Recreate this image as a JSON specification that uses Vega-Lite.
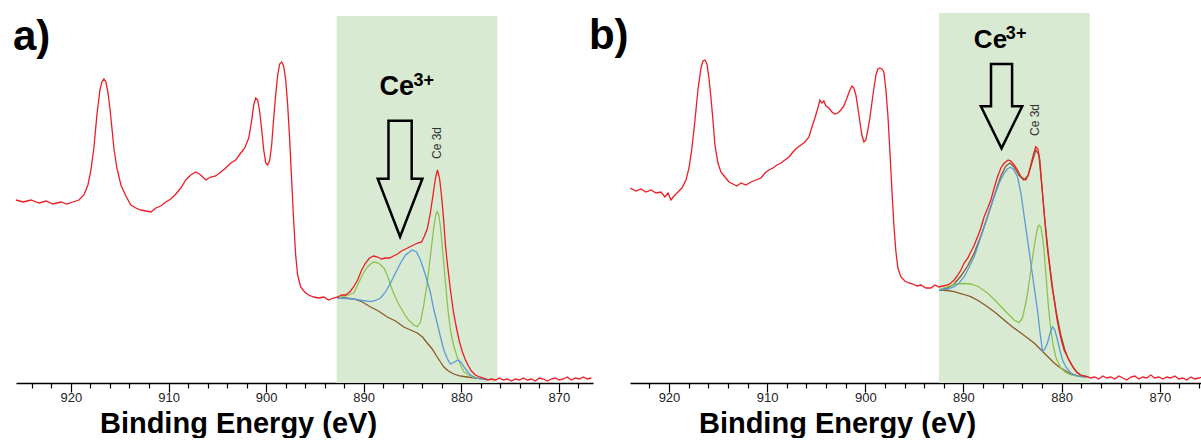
{
"$schema": "https://vega.github.io/schema/vega-lite/v6.json",
"padding": {"left": 12, "top": 13, "right": 0, "bottom": 0},
"background": "white",
"bounds": "flush",
"spacing": 37,
"config": {"view": {"stroke": null}, "axis": {"grid": false}, "font": "Liberation Sans"},
"datasets": {
"a": [
{"eV":892.70,"I":85,"s":"base"},{"eV":891.85,"I":85,"s":"base"},{"eV":891.00,"I":84,"s":"base"},{"eV":890.14,"I":81,"s":"base"},{"eV":889.29,"I":76,"s":"base"},{"eV":888.48,"I":72,"s":"base"},{"eV":887.58,"I":66,"s":"base"},{"eV":886.74,"I":62,"s":"base"},{"eV":885.89,"I":56,"s":"base"},{"eV":885.20,"I":53,"s":"base"},{"eV":884.51,"I":50,"s":"base"},{"eV":883.97,"I":46,"s":"base"},{"eV":883.49,"I":40,"s":"base"},{"eV":882.98,"I":34,"s":"base"},{"eV":882.47,"I":26,"s":"base"},{"eV":882.13,"I":21,"s":"base"},{"eV":881.79,"I":16,"s":"base"},{"eV":881.31,"I":12,"s":"base"},{"eV":880.77,"I":9,"s":"base"},{"eV":880.08,"I":7,"s":"base"},{"eV":879.40,"I":6,"s":"base"},{"eV":878.37,"I":4.7,"s":"base"},{"eV":877.35,"I":4,"s":"base"},
{"eV":892.70,"I":85,"s":"g"},{"eV":891.85,"I":87,"s":"g"},{"eV":891.00,"I":90,"s":"g"},{"eV":890.14,"I":108,"s":"g"},{"eV":889.70,"I":115,"s":"g"},{"eV":889.29,"I":119,"s":"g"},{"eV":888.96,"I":121,"s":"g"},{"eV":888.48,"I":120,"s":"g"},{"eV":887.93,"I":115,"s":"g"},{"eV":887.55,"I":107,"s":"g"},{"eV":887.07,"I":93,"s":"g"},{"eV":886.53,"I":81,"s":"g"},{"eV":885.89,"I":70,"s":"g"},{"eV":885.40,"I":63,"s":"g"},{"eV":884.86,"I":58,"s":"g"},{"eV":884.51,"I":56.3,"s":"g"},{"eV":884.18,"I":61,"s":"g"},{"eV":883.84,"I":78,"s":"g"},{"eV":883.49,"I":100,"s":"g"},{"eV":883.15,"I":128,"s":"g"},{"eV":882.81,"I":156,"s":"g"},{"eV":882.59,"I":169,"s":"g"},{"eV":882.47,"I":171.3,"s":"g"},{"eV":882.33,"I":169,"s":"g"},{"eV":882.13,"I":156,"s":"g"},{"eV":881.87,"I":128,"s":"g"},{"eV":881.62,"I":100,"s":"g"},{"eV":881.36,"I":73,"s":"g"},{"eV":881.11,"I":53,"s":"g"},{"eV":880.80,"I":38,"s":"g"},{"eV":880.42,"I":26,"s":"g"},{"eV":880.08,"I":18,"s":"g"},{"eV":879.74,"I":11.3,"s":"g"},{"eV":879.26,"I":8,"s":"g"},{"eV":878.72,"I":5.7,"s":"g"},{"eV":878.04,"I":4.5,"s":"g"},{"eV":877.35,"I":4,"s":"g"},
{"eV":892.70,"I":85,"s":"b"},{"eV":891.85,"I":84.5,"s":"b"},{"eV":891.00,"I":84,"s":"b"},{"eV":890.14,"I":82.5,"s":"b"},{"eV":889.29,"I":81.3,"s":"b"},{"eV":888.78,"I":82.5,"s":"b"},{"eV":888.27,"I":85,"s":"b"},{"eV":887.76,"I":91,"s":"b"},{"eV":887.25,"I":100,"s":"b"},{"eV":886.74,"I":110,"s":"b"},{"eV":886.22,"I":120,"s":"b"},{"eV":885.71,"I":128,"s":"b"},{"eV":885.03,"I":133,"s":"b"},{"eV":884.59,"I":131,"s":"b"},{"eV":884.18,"I":123,"s":"b"},{"eV":883.67,"I":108,"s":"b"},{"eV":883.15,"I":90,"s":"b"},{"eV":882.85,"I":75,"s":"b"},{"eV":882.47,"I":60,"s":"b"},{"eV":882.13,"I":46,"s":"b"},{"eV":881.79,"I":33,"s":"b"},{"eV":881.41,"I":24,"s":"b"},{"eV":881.11,"I":19,"s":"b"},{"eV":880.77,"I":20.5,"s":"b"},{"eV":880.36,"I":23,"s":"b"},{"eV":880.03,"I":21,"s":"b"},{"eV":879.74,"I":16.3,"s":"b"},{"eV":879.40,"I":12,"s":"b"},{"eV":879.06,"I":8,"s":"b"},{"eV":878.37,"I":4.7,"s":"b"},{"eV":877.35,"I":3.5,"s":"b"},
{"eV":925.63,"I":183,"s":"r"},{"eV":924.91,"I":181,"s":"r"},{"eV":924.09,"I":183,"s":"r"},{"eV":923.28,"I":180,"s":"r"},{"eV":922.56,"I":182,"s":"r"},{"eV":921.84,"I":179,"s":"r"},{"eV":921.02,"I":181,"s":"r"},{"eV":920.41,"I":179,"s":"r"},{"eV":919.80,"I":181,"s":"r"},{"eV":919.18,"I":183,"s":"r"},{"eV":918.67,"I":188,"s":"r"},{"eV":918.26,"I":198,"s":"r"},{"eV":917.95,"I":213,"s":"r"},{"eV":917.65,"I":235,"s":"r"},{"eV":917.34,"I":268,"s":"r"},{"eV":917.03,"I":293,"s":"r"},{"eV":916.83,"I":301,"s":"r"},{"eV":916.62,"I":304,"s":"r"},{"eV":916.42,"I":301,"s":"r"},{"eV":916.21,"I":291,"s":"r"},{"eV":916.01,"I":275,"s":"r"},{"eV":915.80,"I":255,"s":"r"},{"eV":915.60,"I":235,"s":"r"},{"eV":915.29,"I":215,"s":"r"},{"eV":914.88,"I":198,"s":"r"},{"eV":914.37,"I":187,"s":"r"},{"eV":913.86,"I":178,"s":"r"},{"eV":913.35,"I":175,"s":"r"},{"eV":912.84,"I":173,"s":"r"},{"eV":912.32,"I":172,"s":"r"},{"eV":911.81,"I":171,"s":"r"},{"eV":911.30,"I":175,"s":"r"},{"eV":910.79,"I":177,"s":"r"},{"eV":910.28,"I":181,"s":"r"},{"eV":909.76,"I":184,"s":"r"},{"eV":909.25,"I":189,"s":"r"},{"eV":908.74,"I":195,"s":"r"},{"eV":908.23,"I":203,"s":"r"},{"eV":907.72,"I":208,"s":"r"},{"eV":907.21,"I":211,"s":"r"},{"eV":906.69,"I":208,"s":"r"},{"eV":906.18,"I":203,"s":"r"},{"eV":905.67,"I":206,"s":"r"},{"eV":905.16,"I":207,"s":"r"},{"eV":904.65,"I":211,"s":"r"},{"eV":904.14,"I":215,"s":"r"},{"eV":903.62,"I":220,"s":"r"},{"eV":903.11,"I":223,"s":"r"},{"eV":902.60,"I":230,"s":"r"},{"eV":902.19,"I":235,"s":"r"},{"eV":901.78,"I":245,"s":"r"},{"eV":901.47,"I":263,"s":"r"},{"eV":901.27,"I":278,"s":"r"},{"eV":901.06,"I":285,"s":"r"},{"eV":900.86,"I":283,"s":"r"},{"eV":900.65,"I":271,"s":"r"},{"eV":900.45,"I":253,"s":"r"},{"eV":900.24,"I":233,"s":"r"},{"eV":900.04,"I":220,"s":"r"},{"eV":899.84,"I":218,"s":"r"},{"eV":899.63,"I":223,"s":"r"},{"eV":899.43,"I":238,"s":"r"},{"eV":899.22,"I":265,"s":"r"},{"eV":899.02,"I":288,"s":"r"},{"eV":898.81,"I":308,"s":"r"},{"eV":898.61,"I":319,"s":"r"},{"eV":898.40,"I":321,"s":"r"},{"eV":898.20,"I":317,"s":"r"},{"eV":897.99,"I":303,"s":"r"},{"eV":897.79,"I":278,"s":"r"},{"eV":897.58,"I":243,"s":"r"},{"eV":897.38,"I":203,"s":"r"},{"eV":897.18,"I":163,"s":"r"},{"eV":896.97,"I":128,"s":"r"},{"eV":896.77,"I":108,"s":"r"},{"eV":896.46,"I":96,"s":"r"},{"eV":896.05,"I":91,"s":"r"},{"eV":895.64,"I":88,"s":"r"},{"eV":895.13,"I":86,"s":"r"},{"eV":894.62,"I":85,"s":"r"},{"eV":894.10,"I":86,"s":"r"},{"eV":893.59,"I":83,"s":"r"},{"eV":893.08,"I":85,"s":"r"},{"eV":892.67,"I":86,"s":"r"},{"eV":892.26,"I":88,"s":"r"},{"eV":891.85,"I":88,"s":"r"},{"eV":891.44,"I":91,"s":"r"},{"eV":891.03,"I":96,"s":"r"},{"eV":890.62,"I":103,"s":"r"},{"eV":890.21,"I":113,"s":"r"},{"eV":889.81,"I":120,"s":"r"},{"eV":889.40,"I":125,"s":"r"},{"eV":888.99,"I":127,"s":"r"},{"eV":888.58,"I":126,"s":"r"},{"eV":888.17,"I":124,"s":"r"},{"eV":887.76,"I":125,"s":"r"},{"eV":887.35,"I":125,"s":"r"},{"eV":886.94,"I":127,"s":"r"},{"eV":886.53,"I":129,"s":"r"},{"eV":886.12,"I":132,"s":"r"},{"eV":885.71,"I":134,"s":"r"},{"eV":885.30,"I":136,"s":"r"},{"eV":884.89,"I":138,"s":"r"},{"eV":884.48,"I":140,"s":"r"},{"eV":884.07,"I":141,"s":"r"},{"eV":883.77,"I":147,"s":"r"},{"eV":883.46,"I":155,"s":"r"},{"eV":883.15,"I":171,"s":"r"},{"eV":882.85,"I":191,"s":"r"},{"eV":882.64,"I":205,"s":"r"},{"eV":882.44,"I":213,"s":"r"},{"eV":882.23,"I":205,"s":"r"},{"eV":882.03,"I":188,"s":"r"},{"eV":881.82,"I":165,"s":"r"},{"eV":881.62,"I":138,"s":"r"},{"eV":881.41,"I":118,"s":"r"},{"eV":881.11,"I":93,"s":"r"},{"eV":880.80,"I":71,"s":"r"},{"eV":880.49,"I":55,"s":"r"},{"eV":880.18,"I":41,"s":"r"},{"eV":879.88,"I":31,"s":"r"},{"eV":879.57,"I":23,"s":"r"},{"eV":879.26,"I":17,"s":"r"},{"eV":878.96,"I":12,"s":"r"},{"eV":878.55,"I":8,"s":"r"},{"eV":878.14,"I":6,"s":"r"},{"eV":877.73,"I":5,"s":"r"},{"eV":877.32,"I":3,"s":"r"},{"eV":876.91,"I":4,"s":"r"},{"eV":876.50,"I":3,"s":"r"},{"eV":876.09,"I":5,"s":"r"},{"eV":875.68,"I":3,"s":"r"},{"eV":875.27,"I":4,"s":"r"},{"eV":874.86,"I":2,"s":"r"},{"eV":874.45,"I":4,"s":"r"},{"eV":874.04,"I":3,"s":"r"},{"eV":873.63,"I":5,"s":"r"},{"eV":873.22,"I":3,"s":"r"},{"eV":872.81,"I":4,"s":"r"},{"eV":872.41,"I":2,"s":"r"},{"eV":872.00,"I":5,"s":"r"},{"eV":871.59,"I":4,"s":"r"},{"eV":871.18,"I":2,"s":"r"},{"eV":870.77,"I":4,"s":"r"},{"eV":870.36,"I":5,"s":"r"},{"eV":869.95,"I":3,"s":"r"},{"eV":869.54,"I":4,"s":"r"},{"eV":869.13,"I":6,"s":"r"},{"eV":868.72,"I":3,"s":"r"},{"eV":868.31,"I":5,"s":"r"},{"eV":867.90,"I":4,"s":"r"},{"eV":867.49,"I":6,"s":"r"},{"eV":867.08,"I":4,"s":"r"},{"eV":866.67,"I":5,"s":"r"}
],
"b": [
{"eV":892.48,"I":93,"s":"base"},{"eV":891.62,"I":92.5,"s":"base"},{"eV":890.95,"I":91.3,"s":"base"},{"eV":890.10,"I":89,"s":"base"},{"eV":889.25,"I":86.3,"s":"base"},{"eV":888.43,"I":82,"s":"base"},{"eV":887.55,"I":76.3,"s":"base"},{"eV":886.70,"I":70,"s":"base"},{"eV":885.86,"I":63,"s":"base"},{"eV":885.00,"I":56,"s":"base"},{"eV":884.15,"I":50,"s":"base"},{"eV":883.47,"I":45,"s":"base"},{"eV":882.80,"I":40,"s":"base"},{"eV":882.29,"I":35,"s":"base"},{"eV":881.78,"I":30,"s":"base"},{"eV":881.27,"I":25,"s":"base"},{"eV":880.76,"I":20,"s":"base"},{"eV":880.25,"I":16,"s":"base"},{"eV":879.74,"I":13,"s":"base"},{"eV":879.23,"I":10,"s":"base"},{"eV":878.73,"I":8,"s":"base"},{"eV":878.05,"I":6.7,"s":"base"},{"eV":877.37,"I":6.3,"s":"base"},
{"eV":892.48,"I":93,"s":"env"},{"eV":891.62,"I":95,"s":"env"},{"eV":890.95,"I":99,"s":"env"},{"eV":890.26,"I":107,"s":"env"},{"eV":889.58,"I":117,"s":"env"},{"eV":888.90,"I":130,"s":"env"},{"eV":888.23,"I":147,"s":"env"},{"eV":887.55,"I":166,"s":"env"},{"eV":886.87,"I":187,"s":"env"},{"eV":886.19,"I":207,"s":"env"},{"eV":885.68,"I":217,"s":"env"},{"eV":885.27,"I":220,"s":"env"},{"eV":884.84,"I":216,"s":"env"},{"eV":884.36,"I":208,"s":"env"},{"eV":883.85,"I":203,"s":"env"},{"eV":883.44,"I":207,"s":"env"},{"eV":883.03,"I":220,"s":"env"},{"eV":882.63,"I":233,"s":"env"},{"eV":882.32,"I":228,"s":"env"},{"eV":882.02,"I":198,"s":"env"},{"eV":881.71,"I":163,"s":"env"},{"eV":881.30,"I":125,"s":"env"},{"eV":880.89,"I":93,"s":"env"},{"eV":880.49,"I":68,"s":"env"},{"eV":880.08,"I":48,"s":"env"},{"eV":879.67,"I":33,"s":"env"},{"eV":879.27,"I":23,"s":"env"},{"eV":878.86,"I":16,"s":"env"},{"eV":878.45,"I":11,"s":"env"},{"eV":878.05,"I":8,"s":"env"},{"eV":877.37,"I":6,"s":"env"},
{"eV":892.48,"I":93,"s":"g"},{"eV":892.05,"I":95,"s":"g"},{"eV":891.62,"I":96.3,"s":"g"},{"eV":891.11,"I":98,"s":"g"},{"eV":890.60,"I":99,"s":"g"},{"eV":889.93,"I":99.5,"s":"g"},{"eV":889.25,"I":99,"s":"g"},{"eV":888.40,"I":96,"s":"g"},{"eV":887.55,"I":90,"s":"g"},{"eV":886.70,"I":82,"s":"g"},{"eV":885.86,"I":73,"s":"g"},{"eV":885.35,"I":68,"s":"g"},{"eV":884.84,"I":63,"s":"g"},{"eV":884.33,"I":60.3,"s":"g"},{"eV":883.99,"I":65,"s":"g"},{"eV":883.65,"I":80,"s":"g"},{"eV":883.39,"I":95,"s":"g"},{"eV":883.14,"I":113,"s":"g"},{"eV":882.88,"I":131,"s":"g"},{"eV":882.63,"I":146.3,"s":"g"},{"eV":882.42,"I":156,"s":"g"},{"eV":882.29,"I":158,"s":"g"},{"eV":882.12,"I":156,"s":"g"},{"eV":881.95,"I":146.3,"s":"g"},{"eV":881.78,"I":131,"s":"g"},{"eV":881.61,"I":110,"s":"g"},{"eV":881.36,"I":78,"s":"g"},{"eV":881.10,"I":53,"s":"g"},{"eV":880.85,"I":37,"s":"g"},{"eV":880.60,"I":26.3,"s":"g"},{"eV":880.34,"I":20,"s":"g"},{"eV":880.08,"I":14.7,"s":"g"},{"eV":879.57,"I":10.5,"s":"g"},{"eV":879.06,"I":8,"s":"g"},{"eV":878.05,"I":6.3,"s":"g"},{"eV":877.37,"I":6,"s":"g"},
{"eV":892.48,"I":93,"s":"b"},{"eV":891.62,"I":94,"s":"b"},{"eV":890.95,"I":96.3,"s":"b"},{"eV":890.44,"I":100,"s":"b"},{"eV":889.93,"I":106.3,"s":"b"},{"eV":889.42,"I":116,"s":"b"},{"eV":888.90,"I":126.3,"s":"b"},{"eV":888.40,"I":141,"s":"b"},{"eV":887.89,"I":156.3,"s":"b"},{"eV":887.38,"I":172,"s":"b"},{"eV":886.87,"I":186.3,"s":"b"},{"eV":886.36,"I":200,"s":"b"},{"eV":885.86,"I":209.7,"s":"b"},{"eV":885.53,"I":214,"s":"b"},{"eV":885.24,"I":215.7,"s":"b"},{"eV":884.92,"I":214,"s":"b"},{"eV":884.49,"I":206.3,"s":"b"},{"eV":884.15,"I":190,"s":"b"},{"eV":883.81,"I":166.3,"s":"b"},{"eV":883.47,"I":143,"s":"b"},{"eV":883.14,"I":120,"s":"b"},{"eV":882.80,"I":96,"s":"b"},{"eV":882.46,"I":73,"s":"b"},{"eV":882.21,"I":51,"s":"b"},{"eV":881.95,"I":32,"s":"b"},{"eV":881.71,"I":34,"s":"b"},{"eV":881.44,"I":40,"s":"b"},{"eV":881.20,"I":49,"s":"b"},{"eV":880.93,"I":56.3,"s":"b"},{"eV":880.69,"I":53,"s":"b"},{"eV":880.42,"I":43,"s":"b"},{"eV":880.18,"I":33,"s":"b"},{"eV":879.91,"I":23,"s":"b"},{"eV":879.57,"I":16,"s":"b"},{"eV":879.06,"I":10,"s":"b"},{"eV":878.55,"I":7.5,"s":"b"},{"eV":878.05,"I":6.3,"s":"b"},{"eV":877.37,"I":6,"s":"b"},
{"eV":923.97,"I":195,"s":"r"},{"eV":923.36,"I":192,"s":"r"},{"eV":922.85,"I":194,"s":"r"},{"eV":922.34,"I":191,"s":"r"},{"eV":921.83,"I":193,"s":"r"},{"eV":921.32,"I":190,"s":"r"},{"eV":920.81,"I":191,"s":"r"},{"eV":920.41,"I":186,"s":"r"},{"eV":920.10,"I":190,"s":"r"},{"eV":919.80,"I":183,"s":"r"},{"eV":919.49,"I":187,"s":"r"},{"eV":919.08,"I":191,"s":"r"},{"eV":918.68,"I":195,"s":"r"},{"eV":918.27,"I":203,"s":"r"},{"eV":917.96,"I":215,"s":"r"},{"eV":917.66,"I":235,"s":"r"},{"eV":917.35,"I":263,"s":"r"},{"eV":917.05,"I":293,"s":"r"},{"eV":916.74,"I":315,"s":"r"},{"eV":916.54,"I":322,"s":"r"},{"eV":916.33,"I":323,"s":"r"},{"eV":916.13,"I":319,"s":"r"},{"eV":915.93,"I":305,"s":"r"},{"eV":915.72,"I":285,"s":"r"},{"eV":915.52,"I":263,"s":"r"},{"eV":915.32,"I":238,"s":"r"},{"eV":915.01,"I":220,"s":"r"},{"eV":914.71,"I":211,"s":"r"},{"eV":914.30,"I":206,"s":"r"},{"eV":913.89,"I":201,"s":"r"},{"eV":913.48,"I":199,"s":"r"},{"eV":913.08,"I":197,"s":"r"},{"eV":912.67,"I":200,"s":"r"},{"eV":912.16,"I":198,"s":"r"},{"eV":911.65,"I":201,"s":"r"},{"eV":911.14,"I":203,"s":"r"},{"eV":910.63,"I":205,"s":"r"},{"eV":910.22,"I":210,"s":"r"},{"eV":909.82,"I":213,"s":"r"},{"eV":909.41,"I":215,"s":"r"},{"eV":909.00,"I":218,"s":"r"},{"eV":908.59,"I":220,"s":"r"},{"eV":908.19,"I":223,"s":"r"},{"eV":907.78,"I":226,"s":"r"},{"eV":907.37,"I":231,"s":"r"},{"eV":906.97,"I":235,"s":"r"},{"eV":906.56,"I":238,"s":"r"},{"eV":906.15,"I":241,"s":"r"},{"eV":905.74,"I":246,"s":"r"},{"eV":905.44,"I":256,"s":"r"},{"eV":905.13,"I":265,"s":"r"},{"eV":904.83,"I":275,"s":"r"},{"eV":904.62,"I":283,"s":"r"},{"eV":904.42,"I":280,"s":"r"},{"eV":904.22,"I":282,"s":"r"},{"eV":904.01,"I":277,"s":"r"},{"eV":903.71,"I":275,"s":"r"},{"eV":903.40,"I":271,"s":"r"},{"eV":903.10,"I":269,"s":"r"},{"eV":902.79,"I":270,"s":"r"},{"eV":902.49,"I":273,"s":"r"},{"eV":902.18,"I":277,"s":"r"},{"eV":901.87,"I":285,"s":"r"},{"eV":901.57,"I":293,"s":"r"},{"eV":901.36,"I":297,"s":"r"},{"eV":901.16,"I":295,"s":"r"},{"eV":900.96,"I":288,"s":"r"},{"eV":900.75,"I":275,"s":"r"},{"eV":900.55,"I":261,"s":"r"},{"eV":900.35,"I":248,"s":"r"},{"eV":900.14,"I":241,"s":"r"},{"eV":899.94,"I":243,"s":"r"},{"eV":899.74,"I":253,"s":"r"},{"eV":899.53,"I":265,"s":"r"},{"eV":899.33,"I":280,"s":"r"},{"eV":899.12,"I":295,"s":"r"},{"eV":898.92,"I":308,"s":"r"},{"eV":898.72,"I":314,"s":"r"},{"eV":898.51,"I":315,"s":"r"},{"eV":898.31,"I":314,"s":"r"},{"eV":898.11,"I":311,"s":"r"},{"eV":897.90,"I":293,"s":"r"},{"eV":897.70,"I":268,"s":"r"},{"eV":897.50,"I":233,"s":"r"},{"eV":897.29,"I":193,"s":"r"},{"eV":897.09,"I":158,"s":"r"},{"eV":896.88,"I":131,"s":"r"},{"eV":896.68,"I":115,"s":"r"},{"eV":896.37,"I":106,"s":"r"},{"eV":895.97,"I":102,"s":"r"},{"eV":895.56,"I":100,"s":"r"},{"eV":895.15,"I":99,"s":"r"},{"eV":894.74,"I":97,"s":"r"},{"eV":894.33,"I":98,"s":"r"},{"eV":893.82,"I":95,"s":"r"},{"eV":893.32,"I":95,"s":"r"},{"eV":892.91,"I":98,"s":"r"},{"eV":892.51,"I":96,"s":"r"},{"eV":892.10,"I":97,"s":"r"},{"eV":891.62,"I":98,"s":"r"},{"eV":891.28,"I":100,"s":"r"},{"eV":890.95,"I":103,"s":"r"},{"eV":890.57,"I":108,"s":"r"},{"eV":890.26,"I":113,"s":"r"},{"eV":889.93,"I":120,"s":"r"},{"eV":889.55,"I":125,"s":"r"},{"eV":889.25,"I":131.3,"s":"r"},{"eV":888.94,"I":137,"s":"r"},{"eV":888.56,"I":146.3,"s":"r"},{"eV":888.23,"I":155,"s":"r"},{"eV":887.89,"I":166.3,"s":"r"},{"eV":887.52,"I":175,"s":"r"},{"eV":887.21,"I":183,"s":"r"},{"eV":886.90,"I":194,"s":"r"},{"eV":886.53,"I":206.3,"s":"r"},{"eV":886.19,"I":215,"s":"r"},{"eV":885.86,"I":219.7,"s":"r"},{"eV":885.45,"I":223,"s":"r"},{"eV":885.17,"I":222,"s":"r"},{"eV":884.84,"I":218,"s":"r"},{"eV":884.49,"I":213,"s":"r"},{"eV":884.15,"I":206.3,"s":"r"},{"eV":883.85,"I":204,"s":"r"},{"eV":883.65,"I":203,"s":"r"},{"eV":883.39,"I":208,"s":"r"},{"eV":883.14,"I":218,"s":"r"},{"eV":882.88,"I":228,"s":"r"},{"eV":882.63,"I":236.3,"s":"r"},{"eV":882.42,"I":234,"s":"r"},{"eV":882.22,"I":223,"s":"r"},{"eV":882.02,"I":198,"s":"r"},{"eV":881.78,"I":170,"s":"r"},{"eV":881.51,"I":140,"s":"r"},{"eV":881.27,"I":120,"s":"r"},{"eV":881.00,"I":98,"s":"r"},{"eV":880.76,"I":83,"s":"r"},{"eV":880.49,"I":65,"s":"r"},{"eV":880.26,"I":53,"s":"r"},{"eV":879.98,"I":41,"s":"r"},{"eV":879.75,"I":33,"s":"r"},{"eV":879.40,"I":26,"s":"r"},{"eV":879.06,"I":20,"s":"r"},{"eV":878.73,"I":14,"s":"r"},{"eV":878.38,"I":10,"s":"r"},{"eV":878.05,"I":8,"s":"r"},{"eV":877.71,"I":7,"s":"r"},{"eV":877.37,"I":6.3,"s":"r"},{"eV":877.04,"I":5,"s":"r"},{"eV":876.63,"I":6,"s":"r"},{"eV":876.21,"I":4,"s":"r"},{"eV":875.81,"I":7,"s":"r"},{"eV":875.40,"I":5,"s":"r"},{"eV":874.99,"I":6,"s":"r"},{"eV":874.58,"I":4,"s":"r"},{"eV":874.18,"I":7,"s":"r"},{"eV":873.77,"I":5,"s":"r"},{"eV":873.36,"I":3,"s":"r"},{"eV":872.95,"I":6,"s":"r"},{"eV":872.55,"I":7,"s":"r"},{"eV":872.14,"I":4,"s":"r"},{"eV":871.73,"I":6,"s":"r"},{"eV":871.32,"I":5,"s":"r"},{"eV":870.92,"I":8,"s":"r"},{"eV":870.51,"I":5,"s":"r"},{"eV":870.10,"I":6,"s":"r"},{"eV":869.69,"I":4,"s":"r"},{"eV":869.29,"I":6,"s":"r"},{"eV":868.88,"I":5,"s":"r"},{"eV":868.47,"I":7,"s":"r"},{"eV":868.06,"I":4,"s":"r"},{"eV":867.66,"I":5,"s":"r"},{"eV":867.25,"I":3,"s":"r"},{"eV":866.84,"I":6,"s":"r"},{"eV":866.43,"I":4,"s":"r"},{"eV":866.01,"I":5,"s":"r"},{"eV":865.70,"I":6,"s":"r"}
]
},
"hconcat": [
{
"width": 577, "height": 370,
"encoding": {
"x": {"field": "eV", "type": "quantitative", "scale": {"domain": [866.5, 925.63], "reverse": true, "nice": false, "zero": false},
"axis": {"title": "Binding Energy (eV)", "values": [924,922,920,918,916,914,912,910,908,906,904,902,900,898,896,894,892,890,888,886,884,882,880,878,876,874,872,870,868],
"labelExpr": "datum.value % 10 === 0 ? datum.label : ''", "tickSize": {"condition": {"test": "datum.value % 10 === 0", "value": 9}, "value": 5},
"domainColor": "#000", "domainWidth": 1.5, "tickColor": "#000", "tickWidth": 1.2, "labelFont": "Liberation Sans", "labelFontSize": 13, "labelColor": "#222", "labelPadding": -1, "labelFlush": false, "labelOverlap": false,
"titleFont": "Liberation Sans", "titleFontSize": 29, "titleFontWeight": "bold", "titleColor": "#000", "titleX": 222, "titleY": 49, "titleBaseline": "alphabetic", "titleAlign": "center", "titleAnchor": null}},
"y": {"field": "I", "type": "quantitative", "scale": {"domain": [0, 370], "nice": false}, "axis": null}
},
"layer": [
{"data": {"values": [{"eV": 892.77, "eV2": 876.29, "I": 367}]}, "mark": {"type": "rect", "color": "#d9ead3"},
 "encoding": {"x2": {"field": "eV2"}, "y2": {"datum": 0}}},
{"data": {"name": "a"}, "mark": {"type": "line", "strokeWidth": 1.3, "clip": true},
 "encoding": {"color": {"field": "s", "type": "nominal", "legend": null, "scale": {"domain": ["base","env","g","b","r"], "range": ["#8a5a2c","#8a5a2c","#8ec24f","#5a9bd6","#ee1c24"]}}}},
{"data": {"values": [{"eV": 925.94, "I": 333, "t": "a)"}]}, "mark": {"type": "text", "font": "Liberation Sans", "fontSize": 42, "fontWeight": "bold", "align": "left", "baseline": "alphabetic", "color": "#000"}, "encoding": {"text": {"field": "t"}}},
{"data": {"values": [{"eV": 888.37, "I": 288, "t": "Ce"}]}, "mark": {"type": "text", "font": "Liberation Sans", "fontSize": 27, "fontWeight": "bold", "align": "left", "baseline": "alphabetic", "color": "#000"}, "encoding": {"text": {"field": "t"}}},
{"data": {"values": [{"eV": 884.89, "I": 297, "t": "3+"}]}, "mark": {"type": "text", "font": "Liberation Sans", "fontSize": 18, "fontWeight": "bold", "align": "left", "baseline": "alphabetic", "color": "#000"}, "encoding": {"text": {"field": "t"}}},
{"data": {"values": [{"eV": 882.44, "I": 240, "t": "Ce 3d"}]}, "mark": {"type": "text", "font": "Liberation Sans", "fontSize": 12, "angle": 270, "align": "center", "baseline": "middle", "color": "#333"}, "encoding": {"text": {"field": "t"}}},
{"data": {"values": [{"eV": 886.27, "I": 204.3}]}, "mark": {"type": "point", "shape": "M-0.2,-1L0.2,-1L0.2,0L0.385,0L0,1L-0.385,0L-0.2,0Z", "size": 13456, "filled": false, "stroke": "#000", "strokeWidth": 2.5, "opacity": 1}}
]
},
{
"width": 572, "height": 370,
"encoding": {
"x": {"field": "eV", "type": "quantitative", "scale": {"domain": [865.7, 923.97], "reverse": true, "nice": false, "zero": false},
"axis": {"title": "Binding Energy (eV)", "values": [924,922,920,918,916,914,912,910,908,906,904,902,900,898,896,894,892,890,888,886,884,882,880,878,876,874,872,870,868,866],
"labelExpr": "datum.value % 10 === 0 ? datum.label : ''", "tickSize": {"condition": {"test": "datum.value % 10 === 0", "value": 9}, "value": 5},
"domainColor": "#000", "domainWidth": 1.5, "tickColor": "#000", "tickWidth": 1.2, "labelFont": "Liberation Sans", "labelFontSize": 13, "labelColor": "#222", "labelPadding": -1, "labelFlush": false, "labelOverlap": false,
"titleFont": "Liberation Sans", "titleFontSize": 29, "titleFontWeight": "bold", "titleColor": "#000", "titleX": 207, "titleY": 49, "titleBaseline": "alphabetic", "titleAlign": "center", "titleAnchor": null}},
"y": {"field": "I", "type": "quantitative", "scale": {"domain": [0, 370], "nice": false}, "axis": null}
},
"layer": [
{"data": {"values": [{"eV": 892.5, "eV2": 877.13, "I": 370}]}, "mark": {"type": "rect", "color": "#d9ead3"},
 "encoding": {"x2": {"field": "eV2"}, "y2": {"datum": 0}}},
{"data": {"name": "b"}, "mark": {"type": "line", "strokeWidth": 1.3, "clip": true},
 "encoding": {"color": {"field": "s", "type": "nominal", "legend": null, "scale": {"domain": ["base","env","g","b","r"], "range": ["#8a5a2c","#8a5a2c","#8ec24f","#5a9bd6","#ee1c24"]}}}},
{"data": {"values": [{"eV": 928.15, "I": 334, "t": "b)"}]}, "mark": {"type": "text", "font": "Liberation Sans", "fontSize": 42, "fontWeight": "bold", "align": "left", "baseline": "alphabetic", "color": "#000"}, "encoding": {"text": {"field": "t"}}},
{"data": {"values": [{"eV": 888.94, "I": 335, "t": "Ce"}]}, "mark": {"type": "text", "font": "Liberation Sans", "fontSize": 26, "fontWeight": "bold", "align": "left", "baseline": "alphabetic", "color": "#000"}, "encoding": {"text": {"field": "t"}}},
{"data": {"values": [{"eV": 885.68, "I": 344, "t": "3+"}]}, "mark": {"type": "text", "font": "Liberation Sans", "fontSize": 18, "fontWeight": "bold", "align": "left", "baseline": "alphabetic", "color": "#000"}, "encoding": {"text": {"field": "t"}}},
{"data": {"values": [{"eV": 882.68, "I": 263, "t": "Ce 3d"}]}, "mark": {"type": "text", "font": "Liberation Sans", "fontSize": 12, "angle": 270, "align": "center", "baseline": "middle", "color": "#333"}, "encoding": {"text": {"field": "t"}}},
{"data": {"values": [{"eV": 886.12, "I": 276.8}]}, "mark": {"type": "point", "shape": "M-0.25,-1L0.25,-1L0.25,0L0.49,0L0,1L-0.49,0L-0.25,0Z", "size": 7107, "filled": false, "stroke": "#000", "strokeWidth": 2.5, "opacity": 1}}
]
}
]
}
